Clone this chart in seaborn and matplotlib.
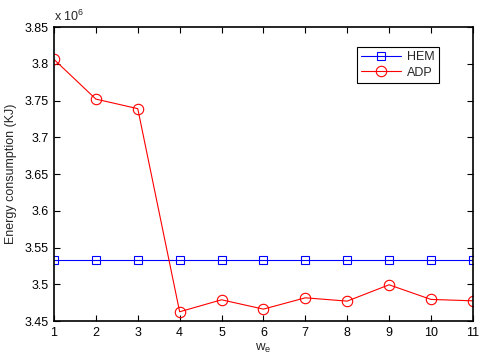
import numpy as np
import pandas as pd
import seaborn as sns
import matplotlib
matplotlib.use("Agg")
import matplotlib.pyplot as plt
from matplotlib.ticker import FuncFormatter, MultipleLocator
from matplotlib.lines import Line2D

# weight values on the x axis
w_e = [1, 2, 3, 4, 5, 6, 7, 8, 9, 10, 11]
# energy consumption (KJ)
hem = [3.533e6] * 11
adp = [3.806e6, 3.752e6, 3.739e6, 3.4627e6, 3.479e6, 3.4663e6,
       3.4817e6, 3.4772e6, 3.4994e6, 3.4795e6, 3.4776e6]
series = ["HEM", "ADP"]

df = pd.DataFrame({
    "w_e": w_e * 2,
    "energy": hem + adp,
    "method": [series[0]] * len(w_e) + [series[1]] * len(w_e),
})

sns.set_style("white")
plt.rcParams["font.family"] = ["Liberation Sans", "DejaVu Sans"]
plt.rcParams["mathtext.fontset"] = "custom"
plt.rcParams["mathtext.rm"] = "Liberation Sans"

fig = plt.figure(figsize=(4.82, 3.56), dpi=100)
ax = fig.add_axes([0.112, 0.098, 0.869, 0.826])

sns.lineplot(data=df, x="w_e", y="energy", hue="method", style="method",
             palette={"HEM": "#0000ff", "ADP": "#ff0000"},
             markers={"HEM": "s", "ADP": "o"}, dashes=False,
             markerfacecolor="none", linewidth=0.8, ax=ax, legend=False)

# marker sizes / edge colours per series
for line, c, ms in zip(ax.get_lines(), ["#0000ff", "#ff0000"], [5.5, 7.5]):
    line.set_markeredgecolor(c)
    line.set_markerfacecolor("none")
    line.set_markersize(ms)
    line.set_markeredgewidth(0.8)

ax.set_xlim(1, 11)
ax.set_ylim(3.45e6, 3.85e6)
ax.xaxis.set_major_locator(MultipleLocator(1))
ax.yaxis.set_major_locator(MultipleLocator(0.05e6))
ax.yaxis.set_major_formatter(FuncFormatter(lambda v, p: f"{v / 1e6:g}"))

for s in ax.spines.values():
    s.set_visible(True)
    s.set_color("black")
    s.set_linewidth(1.2)
ax.tick_params(direction="in", length=4, width=0.8, labelsize=9, pad=4,
               top=True, right=True, bottom=True, left=True, colors="black")

ax.set_xlabel(r"w$_\mathregular{e}$", fontsize=9.5, labelpad=2)
ax.set_ylabel("Energy consumption (KJ)", fontsize=9, labelpad=5)
ax.text(0.0, 1.012, r"x 10$^\mathregular{6}$", transform=ax.transAxes,
        fontsize=9, ha="left", va="bottom")

handles = [
    Line2D([], [], color="#0000ff", marker="s", markerfacecolor="none",
           markersize=5.5, linewidth=0.8, markeredgewidth=0.8),
    Line2D([], [], color="#ff0000", marker="o", markerfacecolor="none",
           markersize=7.5, linewidth=0.8, markeredgewidth=0.8),
]
leg = ax.legend(handles, series, loc="upper left",
                bbox_to_anchor=(0.723, 0.932), borderaxespad=0,
                fontsize=9, fancybox=False, edgecolor="black",
                framealpha=1, handlelength=3.2, borderpad=0.35,
                labelspacing=0.25, handletextpad=0.5)
leg.get_frame().set_linewidth(0.8)

fig.savefig("out.png", dpi=100)
